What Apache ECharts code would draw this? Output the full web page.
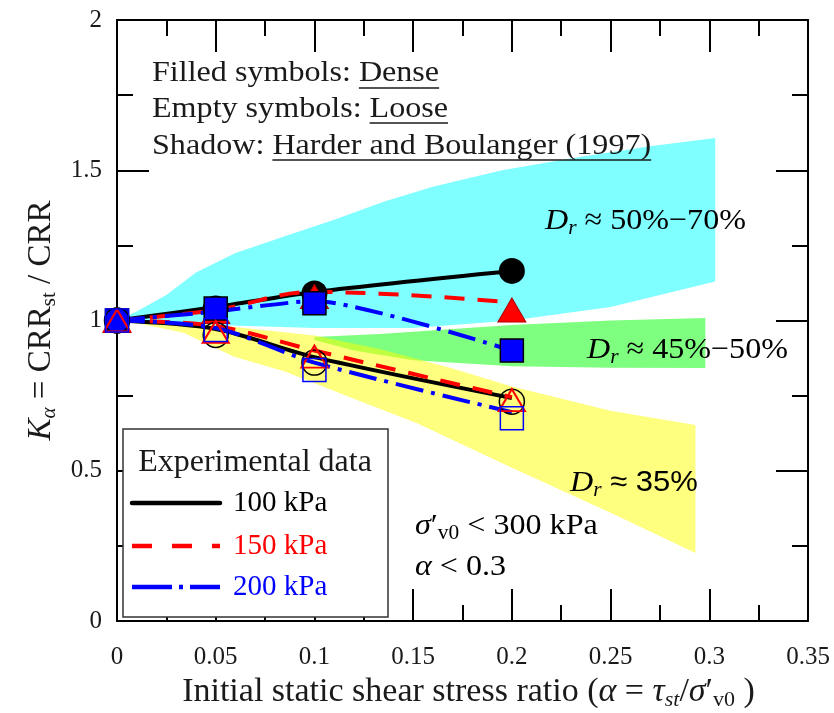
<!DOCTYPE html>
<html>
<head>
<meta charset="utf-8">
<script src="https://cdn.jsdelivr.net/npm/echarts@6/dist/echarts.min.js"></script>
<style>
  html, body { margin: 0; padding: 0; background: #ffffff; }
  #chart { width: 834px; height: 713px; }
</style>
</head>
<body>
<div id="chart"></div>
<script>
// Initial static shear stress ratio at which the tests were run
const alphaRatio = [0, 0.05, 0.1, 0.2];

// Measured K_alpha, dense specimens (filled symbols)
const dense100 = [1.0, 1.04, 1.09, 1.165];
const dense150 = [1.0, 1.03, 1.08, 1.035];
const dense200 = [1.0, 1.04, 1.057, 0.90];
// Measured K_alpha, loose specimens (empty symbols)
const loose100 = [1.0, 0.952, 0.86, 0.73];
const loose150 = [1.0, 0.962, 0.88, 0.735];
const loose200 = [1.0, 0.968, 0.835, 0.675];

// Trend curves through each data set
const trendDense100 = [1.0, 1.045, 1.095, 1.165];
const trendDense150 = [1.0, 1.035, 1.095, 1.06];
const trendDense200 = [1.0, 1.03, 1.065, 0.90];
const trendLoose100 = [1.0, 0.972, 0.878, 0.742];
const trendLoose150 = [1.0, 0.982, 0.9, 0.745];
const trendLoose200 = [1.0, 0.975, 0.86, 0.695];

// Harder and Boulanger (1997) ranges: [alpha, K_alpha] along upper and lower edges
const bandDr5070Upper = [[0, 1.0], [0.01, 1.03], [0.025, 1.085], [0.04, 1.16], [0.06, 1.225], [0.085, 1.28], [0.11, 1.335], [0.135, 1.395], [0.16, 1.445], [0.195, 1.50], [0.235, 1.545], [0.27, 1.58], [0.303, 1.607]];
const bandDr5070Lower = [[0, 1.0], [0.05, 0.985], [0.1, 0.975], [0.15, 0.975], [0.2, 1.0], [0.25, 1.045], [0.303, 1.13]];
const bandDr4550Upper = [[0.1, 0.945], [0.133, 0.955], [0.2, 0.985], [0.25, 1.0], [0.298, 1.008]];
const bandDr4550Lower = [[0.1, 0.935], [0.12, 0.9], [0.15, 0.868], [0.2, 0.848], [0.25, 0.843], [0.298, 0.842]];
const bandDr35Upper = [[0, 1.0], [0.05, 0.985], [0.1, 0.95], [0.133, 0.905], [0.17, 0.84], [0.2, 0.78], [0.25, 0.70], [0.293, 0.652]];
const bandDr35Lower = [[0, 1.0], [0.015, 0.985], [0.034, 0.958], [0.059, 0.88], [0.085, 0.83], [0.118, 0.745], [0.152, 0.658], [0.2, 0.51], [0.25, 0.36], [0.293, 0.226]];

// Axis ticks
const xTicks = [0, 0.05, 0.1, 0.15, 0.2, 0.25, 0.3, 0.35];
const yTicks = [0, 0.5, 1, 1.5, 2];

const SERIF = "'Liberation Serif', 'Times New Roman', serif";
const SANS = "'Liberation Sans', Arial, sans-serif";
const BLACK = '#000000';
const RED = '#ff0000';
const BLUE = '#0000ff';
const INK = '#1a1a1a';

const pairs = (ys) => alphaRatio.map((a, i) => [a, ys[i]]);

function bandSeries(name, upper, lower, fill) {
  const ring = upper.concat(lower.slice().reverse());
  return {
    type: 'custom',
    name: name,
    silent: true,
    z: 1,
    clip: true,
    data: [[0, 0]],
    renderItem: function (params, api) {
      return {
        type: 'polygon',
        shape: { points: ring.map(function (p) { return api.coord(p); }), smooth: 0 },
        style: { fill: fill, stroke: null }
      };
    }
  };
}

function trendSeries(name, ys, color, type, width, smooth) {
  return {
    type: 'line',
    name: name,
    data: pairs(ys),
    smooth: smooth,
    showSymbol: false,
    silent: true,
    z: 2,
    lineStyle: { color: color, width: width, type: type, cap: 'butt' }
  };
}

function pointSeries(name, ys, symbol, size, fill, stroke, strokeWidth) {
  return {
    type: 'scatter',
    name: name,
    data: pairs(ys),
    symbol: symbol,
    symbolSize: size,
    silent: true,
    z: 3,
    itemStyle: { color: fill, borderColor: stroke, borderWidth: strokeWidth, opacity: 1 }
  };
}

const tickLabelStyle = { fontFamily: SERIF, fontSize: 25, color: INK };

function frameAxis(position, isX, showLabels) {
  return {
    type: 'value',
    position: position,
    min: isX ? xTicks[0] : yTicks[0],
    max: isX ? xTicks[xTicks.length - 1] : yTicks[yTicks.length - 1],
    interval: isX ? 0.05 : 0.5,
    axisLine: { show: true, onZero: false, lineStyle: { color: BLACK, width: 2 } },
    axisTick: { show: true, inside: true, length: 32, lineStyle: { color: BLACK, width: 2 } },
    minorTick: { show: true, splitNumber: 2, length: 16, lineStyle: { color: BLACK, width: 2 } },
    splitLine: { show: false },
    axisLabel: Object.assign({
      show: showLabels,
      margin: isX ? 24 : 15,
      formatter: function (v) { return String(+(+v).toFixed(2)); }
    }, tickLabelStyle)
  };
}

function titleRich(size, subSize, drop) {
  return {
    t: { fontFamily: SERIF, fontSize: size, color: INK },
    i: { fontFamily: SERIF, fontSize: size, fontStyle: 'italic', color: INK },
    isub: { fontFamily: SERIF, fontSize: subSize, fontStyle: 'italic', color: INK, padding: [drop, 0, 0, 0] },
    sub: { fontFamily: SERIF, fontSize: subSize, color: INK, padding: [drop, 0, 0, 0] }
  };
}

const xMain = frameAxis('bottom', true, true);
xMain.name = '{t|Initial static shear stress ratio (}{i|α}{t| = }{i|τ}{isub|st}{t|/}{i|σ}{t|′}{sub|v0}{t| )}';
xMain.nameLocation = 'middle';
xMain.nameGap = 50;
xMain.nameTextStyle = { rich: titleRich(34, 22, 17), padding: [0, 0, 0, 12] };

const yMain = frameAxis('left', false, true);
yMain.name = '{i|K}{isub|α}{t| = CRR}{sub|st}{t| / CRR}';
yMain.nameLocation = 'middle';
yMain.nameRotate = 90;
yMain.nameGap = 57;
yMain.nameTextStyle = { rich: titleRich(33, 21, 16) };

const chart = echarts.init(document.getElementById('chart'), null, { renderer: 'canvas' });

// Text width helper, used to place the underlines
const measureCtx = document.createElement('canvas').getContext('2d');
function textWidth(str, font) {
  measureCtx.font = font;
  return measureCtx.measureText(str).width;
}

const NOTE_SIZE = 30;
const NOTE_SCALE = 1.07;
const noteFont = NOTE_SIZE + 'px ' + SERIF;

function noteLine(x, y, plain, underlined, underlineY) {
  const wPlain = textWidth(plain, noteFont) * NOTE_SCALE;
  const wUnder = textWidth(underlined, noteFont) * NOTE_SCALE;
  return [
    {
      type: 'text', x: x, y: y, scaleX: NOTE_SCALE, z: 50, silent: true,
      style: { text: plain + underlined, font: noteFont, fill: INK, align: 'left', verticalAlign: 'middle' }
    },
    {
      type: 'line', z: 50, silent: true,
      shape: { x1: x + wPlain, y1: underlineY, x2: x + wPlain + wUnder, y2: underlineY },
      style: { stroke: INK, lineWidth: 1.5 }
    }
  ];
}

const richNote = {
  t: { fontFamily: SERIF, fontSize: NOTE_SIZE, color: INK },
  i: { fontFamily: SERIF, fontSize: NOTE_SIZE, fontStyle: 'italic', color: INK },
  isub: { fontFamily: SERIF, fontSize: 20, fontStyle: 'italic', color: INK, padding: [16, 0, 0, 0] },
  sub: { fontFamily: SERIF, fontSize: 20, color: INK, padding: [16, 0, 0, 0] },
  s: { fontFamily: SANS, fontSize: 29, color: '#111111' }
};

function richText(x, y, text) {
  return {
    type: 'text', x: x, y: y, scaleX: NOTE_SCALE, z: 50, silent: true,
    style: { text: text, rich: richNote, align: 'left', verticalAlign: 'middle' }
  };
}

const legendFont = '29px ' + SERIF;
const graphics = []
  .concat(noteLine(152, 73, 'Filled symbols: ', 'Dense', 88))
  .concat(noteLine(152, 109, 'Empty symbols: ', 'Loose', 123))
  .concat(noteLine(152, 146, 'Shadow: ', 'Harder and Boulanger (1997)', 160))
  .concat([
    richText(545, 221, '{i|D}{isub|r}{t| ≈ 50%−70%}'),
    richText(587, 350, '{i|D}{isub|r}{t| ≈ 45%−50%}'),
    richText(570, 483, '{i|D}{isub|r}{s| ≈ 35%}'),
    richText(415, 526, '{i|σ}{t|′}{sub|v0}{t| < 300 kPa}'),
    richText(415, 567, '{i|α}{t| < 0.3}'),
    // legend box
    {
      type: 'rect', z: 60, silent: true,
      shape: { x: 123, y: 429, width: 265, height: 188 },
      style: { fill: '#ffffff', stroke: '#333333', lineWidth: 1.5 }
    },
    {
      type: 'text', x: 255, y: 463, z: 61, silent: true,
      style: { text: 'Experimental data', font: '32px ' + SERIF, fill: INK, align: 'center', verticalAlign: 'middle' }
    },
    {
      type: 'line', z: 61, silent: true,
      shape: { x1: 132, y1: 503, x2: 220, y2: 503 },
      style: { stroke: BLACK, lineWidth: 4.5, lineCap: 'round' }
    },
    {
      type: 'text', x: 233, y: 503, z: 61, silent: true,
      style: { text: '100 kPa', font: legendFont, fill: BLACK, align: 'left', verticalAlign: 'middle' }
    },
    {
      type: 'line', z: 61, silent: true,
      shape: { x1: 132, y1: 546, x2: 220, y2: 546 },
      style: { stroke: RED, lineWidth: 4.5, lineDash: [20, 20], lineCap: 'butt' }
    },
    {
      type: 'text', x: 233, y: 546, z: 61, silent: true,
      style: { text: '150 kPa', font: legendFont, fill: RED, align: 'left', verticalAlign: 'middle' }
    },
    {
      type: 'line', z: 61, silent: true,
      shape: { x1: 132, y1: 587, x2: 220, y2: 587 },
      style: { stroke: BLUE, lineWidth: 4.5, lineDash: [40, 7, 4, 7], lineCap: 'butt' }
    },
    {
      type: 'text', x: 233, y: 587, z: 61, silent: true,
      style: { text: '200 kPa', font: legendFont, fill: BLUE, align: 'left', verticalAlign: 'middle' }
    }
  ]);

chart.setOption({
  animation: false,
  backgroundColor: '#ffffff',
  grid: { left: 117, right: 26, top: 20, bottom: 92, containLabel: false, outerBoundsMode: 'none' },
  xAxis: [xMain, frameAxis('top', true, false)],
  yAxis: [yMain, frameAxis('right', false, false)],
  series: [
    bandSeries('Dr 50-70%', bandDr5070Upper, bandDr5070Lower, 'rgba(0,255,255,0.5)'),
    bandSeries('Dr 45-50%', bandDr4550Upper, bandDr4550Lower, 'rgba(0,255,0,0.5)'),
    bandSeries('Dr 35%', bandDr35Upper, bandDr35Lower, 'rgba(255,255,0,0.5)'),

    trendSeries('Dense 100 kPa', trendDense100, BLACK, 'solid', 4, 0.3),
    trendSeries('Dense 150 kPa', trendDense150, RED, [20, 13], 4, 0.4),
    trendSeries('Dense 200 kPa', trendDense200, BLUE, [28, 8, 4, 8], 4, 0.2),
    trendSeries('Loose 100 kPa', trendLoose100, BLACK, 'solid', 4, 0.3),
    trendSeries('Loose 150 kPa', trendLoose150, RED, [20, 13], 4, 0.3),
    trendSeries('Loose 200 kPa', trendLoose200, BLUE, [28, 8, 4, 8], 4, 0.3),

    pointSeries('Dense 100 kPa pts', dense100, 'circle', 26, BLACK, BLACK, 0),
    pointSeries('Dense 150 kPa pts', dense150, 'triangle', [28, 24], RED, '#b00000', 1),
    pointSeries('Dense 200 kPa pts', dense200, 'rect', 23, BLUE, BLACK, 1.5),
    pointSeries('Loose 100 kPa pts', loose100, 'circle', 25, 'rgba(0,0,0,0)', BLACK, 1.5),
    pointSeries('Loose 150 kPa pts', loose150, 'triangle', [26, 22], 'rgba(0,0,0,0)', RED, 2),
    pointSeries('Loose 200 kPa pts', loose200, 'rect', 23, 'rgba(0,0,0,0)', BLUE, 1.5)
  ],
  graphic: graphics
});
</script>
</body>
</html>
